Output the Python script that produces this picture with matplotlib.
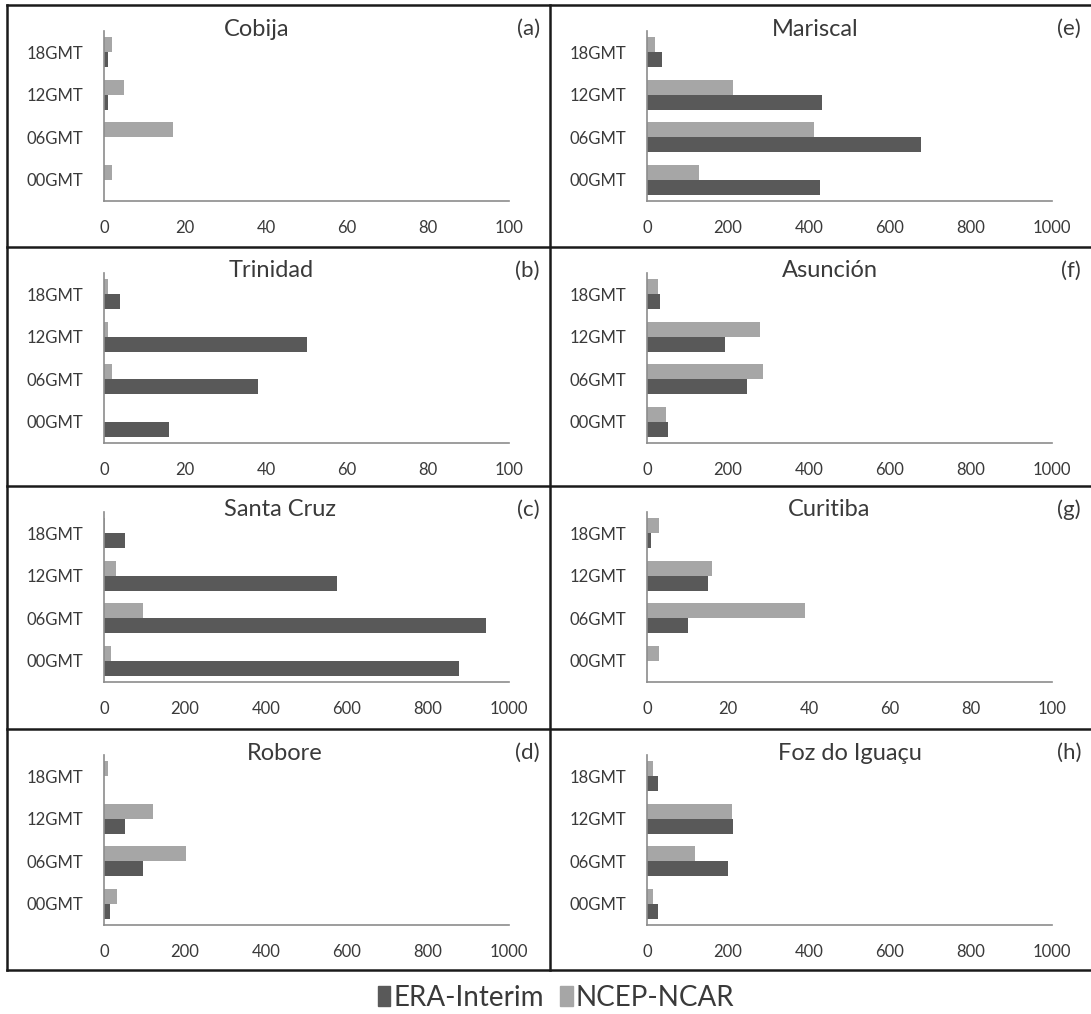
import matplotlib
matplotlib.use("Agg")
import matplotlib.pyplot as plt
from matplotlib.patches import Patch
from matplotlib.lines import Line2D

plt.rcParams['font.family'] = ['Lato', 'DejaVu Sans']

hours = ['00GMT', '06GMT', '12GMT', '18GMT']

# ERA-Interim / NCEP-NCAR counts per station, in the order of `hours`
era_cobija = [0, 0, 1, 1]
ncep_cobija = [2, 17, 5, 2]
era_trinidad = [16, 38, 50, 4]
ncep_trinidad = [0, 2, 1, 1]
era_santacruz = [876, 942, 576, 53]
ncep_santacruz = [17, 97, 30, 3]
era_robore = [14, 96, 53, 0]
ncep_robore = [33, 203, 120, 11]
era_mariscal = [426, 677, 432, 37]
ncep_mariscal = [129, 412, 212, 20]
era_asuncion = [51, 248, 193, 32]
ncep_asuncion = [47, 287, 278, 27]
era_curitiba = [0, 10, 15, 1]
ncep_curitiba = [3, 39, 16, 3]
era_foz = [28, 201, 212, 28]
ncep_foz = [16, 118, 211, 16]

stations = ['Cobija', 'Trinidad', 'Santa Cruz', 'Robore',
            'Mariscal', 'Asunción', 'Curitiba', 'Foz do Iguaçu']
letters = ['(a)', '(b)', '(c)', '(d)', '(e)', '(f)', '(g)', '(h)']
era_all = [era_cobija, era_trinidad, era_santacruz, era_robore,
           era_mariscal, era_asuncion, era_curitiba, era_foz]
ncep_all = [ncep_cobija, ncep_trinidad, ncep_santacruz, ncep_robore,
            ncep_mariscal, ncep_asuncion, ncep_curitiba, ncep_foz]
xmax = [100, 100, 1000, 1000, 1000, 1000, 100, 1000]

DARK = '#595959'
LIGHT = '#a6a6a6'
TEXT = '#3a3a3a'

W, H = 1091, 1014
fig = plt.figure(figsize=(W / 100, H / 100), dpi=100)

col_left = [7, 550]
col_right = [550, 1091]
row_top = [5, 247, 486, 729, 970]
title_x = [257, 271, 280, 285, 815, 830, 829, 850]


def fx(px):
    return px / W


def fy(py):
    return 1 - py / H


for i, name in enumerate(stations):
    col, row = divmod(i, 4)
    left = col_left[col] + 97
    top = row_top[row] + 26
    ax = fig.add_axes([fx(left), fy(top + 170), 405 / W, 170 / H])

    y = list(range(len(hours)))
    ax.barh([v - 0.175 for v in y], era_all[i], height=0.35, color=DARK)
    ax.barh([v + 0.175 for v in y], ncep_all[i], height=0.35, color=LIGHT)

    ax.set_xlim(0, xmax[i])
    ax.set_ylim(-0.5, 3.5)
    ax.set_xticks(range(0, xmax[i] + 1, xmax[i] // 5))
    ax.set_yticks(y)
    ax.set_yticklabels(hours)
    ax.tick_params(axis='x', length=0, pad=14, labelsize=12, labelcolor=TEXT)
    ax.tick_params(axis='y', length=0, pad=15, labelsize=12, labelcolor=TEXT)
    for side in ['top', 'right']:
        ax.spines[side].set_visible(False)
    for side in ['left', 'bottom']:
        ax.spines[side].set_color('#8c8c8c')
        ax.spines[side].set_linewidth(1.2)
    ax.patch.set_alpha(0)

    fig.text(fx(title_x[i]), fy(row_top[row] + 24), name, fontsize=17,
             color=TEXT, ha='center', va='center')
    fig.text(fx(col_right[col] - 10), fy(row_top[row] + 24), letters[i],
             fontsize=16, color=TEXT, ha='right', va='center')

# panel frame
frame = dict(color='#1a1a1a', linewidth=1.8)
for yy in row_top:
    fig.add_artist(Line2D([fx(7), 1], [fy(yy), fy(yy)], **frame))
for xx in [7, 550]:
    fig.add_artist(Line2D([fx(xx), fx(xx)], [fy(5), fy(970)], **frame))

handles = [Patch(color=DARK), Patch(color=LIGHT)]
fig.legend(handles, ['ERA-Interim', 'NCEP-NCAR'], loc='center',
           bbox_to_anchor=(fx(556), fy(998)), ncol=2, frameon=False,
           fontsize=20, handlelength=0.45, handleheight=0.75,
           handletextpad=0.1, columnspacing=0.6, labelcolor=TEXT)

fig.savefig('out.png', dpi=100)
